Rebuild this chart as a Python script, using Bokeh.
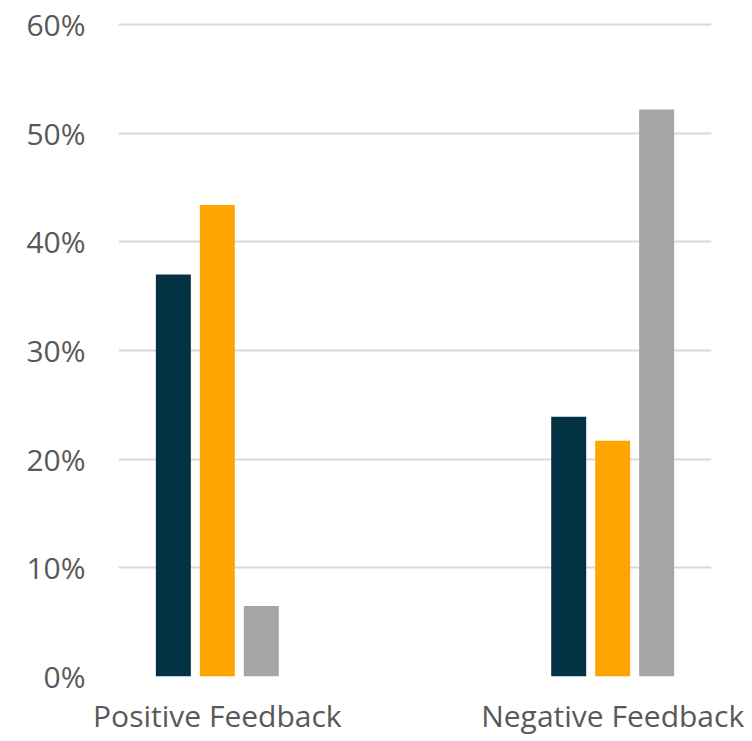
from bokeh.plotting import figure
from bokeh.models import Range1d, FixedTicker, NumeralTickFormatter, ColumnDataSource
from bokeh.embed import file_html
from bokeh.resources import INLINE

categories = ["Positive Feedback", "Negative Feedback"]
cat_pos = [1, 5]
series_a = [0.370, 0.239]   # dark navy
series_b = [0.434, 0.217]   # orange
series_c = [0.065, 0.522]   # gray
y_ticks = [0, 0.1, 0.2, 0.3, 0.4, 0.5, 0.6]

colors = ["#023243", "#FFA500", "#A5A5A5"]
offsets = [-0.445, 0.0, 0.445]
bar_w = 0.354

p = figure(width=744, height=725, output_backend="svg", toolbar_location=None,
           x_range=Range1d(0, 6), y_range=Range1d(0, 0.602),
           frame_width=593, frame_height=654)
p.min_border_left = 118
p.min_border_right = 33
p.min_border_top = 22
p.min_border_bottom = 49
p.outline_line_color = None
p.background_fill_color = "white"
p.border_fill_color = "white"

for vals, col, off in zip([series_a, series_b, series_c], colors, offsets):
    src = ColumnDataSource(dict(x=[c + off for c in cat_pos], top=vals))
    p.vbar(x="x", top="top", bottom=0, width=bar_w, source=src,
           fill_color=col, line_color=None)

p.xgrid.visible = False
p.ygrid.grid_line_color = "#D9D9D9"
p.ygrid.grid_line_width = 2
p.ygrid.level = "underlay"

p.yaxis.ticker = FixedTicker(ticks=y_ticks)
p.yaxis.formatter = NumeralTickFormatter(format="0%")
p.yaxis.axis_line_color = None
p.yaxis.major_tick_line_color = None
p.yaxis.minor_tick_line_color = None
p.yaxis.major_label_standoff = 27
p.yaxis.major_label_text_font = "Open Sans"
p.yaxis.major_label_text_font_size = "30px"
p.yaxis.major_label_text_color = "#595959"

p.xaxis.ticker = FixedTicker(ticks=cat_pos)
p.xaxis.major_label_overrides = {c: n for c, n in zip(cat_pos, categories)}
p.xaxis.axis_line_color = None
p.xaxis.major_tick_line_color = None
p.xaxis.minor_tick_line_color = None
p.xaxis.major_label_standoff = 12
p.xaxis.major_label_text_font = "Open Sans"
p.xaxis.major_label_text_font_size = "30px"
p.xaxis.major_label_text_color = "#595959"

open("out.html", "w").write(file_html(p, INLINE))
